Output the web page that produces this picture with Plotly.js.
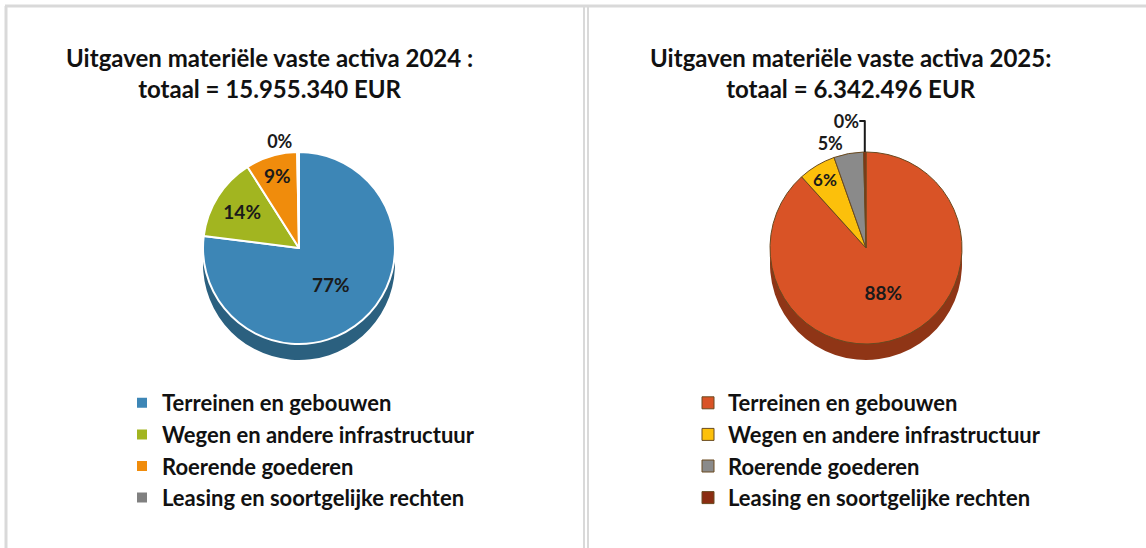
<!DOCTYPE html>
<html>
<head>
<meta charset="utf-8">
<script src="https://cdn.plot.ly/plotly-3.0.1.min.js"></script>
<style>html,body{margin:0;padding:0;background:#fff;}#chart{width:1146px;height:548px;}</style>
</head>
<body>
<div id="chart"></div>
<script>
// ---- data ----
const categories = ["Terreinen en gebouwen", "Wegen en andere infrastructuur", "Roerende goederen", "Leasing en soortgelijke rechten"];
const share2024 = [77.0, 14.0, 8.7, 0.3];
const share2025 = [88.3, 6.3, 5.0, 0.4];
const title2024 = "Uitgaven materiële vaste activa 2024 :<br>totaal = 15.955.340 EUR";
const title2025 = "Uitgaven materiële vaste activa 2025:<br>totaal = 6.342.496 EUR";

// ---- styling ----
const W = 1146, H = 548;
const colors2024 = ["#3d86b6", "#a2b520", "#f08c0c", "#808080"];
const colors2025 = ["#d95326", "#fcc00b", "#8a8a8a", "#8b2d12"];
const side2024 = "#2b607f";
const side2025 = "#8f3516";
const FONT = "Lato, 'Open Sans', sans-serif";

function dom(cx, cy, r) {
  return {x: [(cx - r) / W, (cx + r) / W], y: [1 - (cy + r) / H, 1 - (cy - r) / H]};
}
const R = 96, DEPTH = 16, CY = 248;

// legend entries of the second chart get a trailing space so that they are
// separate keys from the first chart's entries (pie legends share labels)
const labels2025 = categories.map(c => c + " ");

function pieTraces(values, labels, cols, sideCol, cx, cy, legendId, lineCol, lineW, textpos) {
  const shadow = {
    type: "pie", values: values, labels: labels, sort: false, direction: "clockwise", rotation: 0,
    domain: dom(cx, cy + DEPTH, R),
    marker: {colors: values.map(() => sideCol), line: {color: sideCol, width: 0}},
    textinfo: "none", hoverinfo: "skip", showlegend: false, legend: legendId
  };
  const top = {
    type: "pie", values: values, labels: labels, sort: false, direction: "clockwise", rotation: 0,
    domain: dom(cx, cy, R),
    marker: {colors: cols, line: {color: lineCol, width: lineW}},
    texttemplate: "%{percent:.0%}", textposition: textpos,
    insidetextorientation: "horizontal",
    textfont: {family: FONT, size: 19, color: "#1a1a1a", weight: "bold"},
    outsidetextfont: {family: FONT, size: 18, color: "#1a1a1a", weight: "bold"},
    legend: legendId, showlegend: true
  };
  return [shadow, top];
}

const data = [
  ...pieTraces(share2024, categories, colors2024, side2024, 299, CY, "legend", "#ffffff", 2, ["inside", "inside", "inside", "outside"]),
  ...pieTraces(share2025, labels2025, colors2025, side2025, 866, CY, "legend2", "#6a4a20", 1, ["inside", "inside", "outside", "outside"])
];

const legendStyle = (x, y) => ({
  x: x / W, y: 1 - y / H, xanchor: "left", yanchor: "top", orientation: "v",
  font: {family: FONT, size: 22, color: "#111", weight: "bold"},
  bgcolor: "rgba(0,0,0,0)", traceorder: "normal", itemclick: false
});

const layout = {
  width: W, height: H, margin: {l: 0, r: 0, t: 0, b: 0},
  paper_bgcolor: "#ffffff", showlegend: true,
  legend: legendStyle(122, 382),
  legend2: legendStyle(688, 382),
  annotations: [
    {text: title2024, x: 269 / W, y: 1 - 73 / H, xref: "paper", yref: "paper", xanchor: "center", yanchor: "middle",
     showarrow: false, font: {family: FONT, size: 24, color: "#111", weight: "bold"}, align: "center"},
    {text: title2025, x: 850 / W, y: 1 - 73 / H, xref: "paper", yref: "paper", xanchor: "center", yanchor: "middle",
     showarrow: false, font: {family: FONT, size: 24, color: "#111", weight: "bold"}, align: "center"}
  ],
  shapes: [
    {type: "line", xref: "paper", yref: "paper", x0: 5 / W, x1: 1, y0: 1 - 6 / H, y1: 1 - 6 / H, line: {color: "#d9d9d9", width: 3}},
    {type: "line", xref: "paper", yref: "paper", x0: 6 / W, x1: 6 / W, y0: 0, y1: 1 - 6 / H, line: {color: "#d9d9d9", width: 3}},
    {type: "line", xref: "paper", yref: "paper", x0: 584 / W, x1: 584 / W, y0: 0, y1: 1 - 6 / H, line: {color: "#d9d9d9", width: 2}},
    {type: "line", xref: "paper", yref: "paper", x0: 588 / W, x1: 588 / W, y0: 0, y1: 1 - 6 / H, line: {color: "#d9d9d9", width: 2}}
  ]
};

Plotly.newPlot("chart", data, layout, {displayModeBar: false, staticPlot: true});
</script>
</body>
</html>
